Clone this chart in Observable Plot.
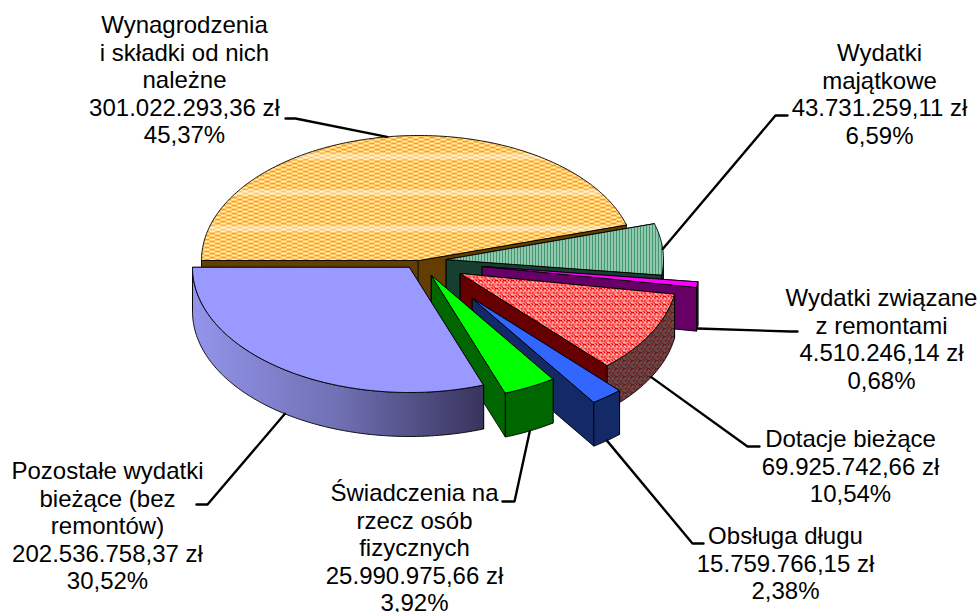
<!DOCTYPE html>
<html lang="pl">
<head>
<meta charset="utf-8">
<script src="https://cdn.jsdelivr.net/npm/d3@7"></script>
<script src="https://cdn.jsdelivr.net/npm/@observablehq/plot@0.6"></script>
<style>
html,body{margin:0;padding:0;background:#fff;overflow:hidden}
svg{display:block}
</style>
</head>
<body>
<div id="chart"></div>
<script>
// --- data ---
const names = [
  "Wynagrodzenia\ni składki od nich\nnależne",
  "Wydatki\nmajątkowe",
  "Wydatki związane\nz remontami",
  "Dotacje bieżące",
  "Obsługa długu",
  "Świadczenia na\nrzecz osób\nfizycznych",
  "Pozostałe wydatki\nbieżące (bez\nremontów)"
];
const amounts = [301022293.36, 43731259.11, 4510246.14, 69925742.66, 15759766.15, 25990975.66, 202536758.37];
const shares = ["45,37%", "6,59%", "0,68%", "10,54%", "2,38%", "3,92%", "30,52%"];

// --- pie layout (exploded apex of every slice, ellipse radii, wall depth) ---
const apexX = [418, 446, 482, 460, 472, 431, 409];
const apexY = [260, 259, 266, 273, 298, 275, 267];
const radiusX = 217, radiusY = 125, depth = 44, firstAngle = -90;

// --- label layout ---
const labelX = [184, 879, 881, 850, 785, 414, 107];
const labelBaseline = [30, 58, 303, 444, 541, 498, 476];
const elbowX = [295, 775, 790, 747, 692, 514, 207];
const elbowY = [118, 115, 331, 446, 543, 501, 504];
const stubX  = [285, 787, 797, 759, 703, 502, 196];

// --- styles ---
const topFill  = ["url(#patYellow)", "url(#patGreen)", "#ff00ff", "url(#patRed)", "#3366ff", "#00ff00", "#9999ff"];
const cutFill  = ["#633e00", "#173f30", "#660066", "#660000", "#142a66", "#006600", "#4a4a80"];
const wallFill = ["#633e00", "#173f30", "#660066", "url(#patRedDark)", "#142a66", "#006600", "url(#gradViolet)"];

const total = d3.sum(amounts);
const money = d3.formatLocale({decimal: ",", thousands: ".", grouping: [3], currency: ["", ""]}).format(",.2f");

const rad = a => a * Math.PI / 180;
const edge = (i, a) => [apexX[i] + radiusX * Math.sin(rad(a)), apexY[i] - radiusY * Math.cos(rad(a))];
const down = p => [p[0], p[1] + depth];
const arc = (i, a0, a1) => {
  const n = Math.max(2, Math.ceil(Math.abs(a1 - a0)));
  return d3.range(n + 1).map(k => edge(i, a0 + (a1 - a0) * k / n));
};

let cursor = firstAngle;
const slices = amounts.map((v, i) => {
  const a0 = cursor, a1 = cursor + 360 * v / total;
  cursor = a1;
  return {i, a0, a1, mid: (a0 + a1) / 2};
});

const face = (pts, fill, strokeWidth = 0.9) =>
  Plot.line(pts, {x: d => d[0], y: d => d[1], curve: "linear-closed", fill, stroke: "#000", strokeWidth, strokeLinejoin: "round"});

const pieMarks = slices.flatMap(({i, a0, a1}) => {
  const apex = [apexX[i], apexY[i]];
  const marks = [];
  for (const a of [a0, a1]) {
    const e = edge(i, a);
    marks.push(face([apex, e, down(e), down(apex)], cutFill[i]));
  }
  const w0 = Math.max(a0, 90), w1 = Math.min(a1, 270);
  if (w1 > w0) {
    const top = arc(i, w0, w1);
    marks.push(face([...top, ...top.slice().reverse().map(p => down(p))], wallFill[i]));
  }
  marks.push(face([apex, ...arc(i, a0, a1)], topFill[i]));
  return marks;
});

const leaderMarks = slices.map(({i, mid}) => {
  const e = edge(i, mid);
  const start = mid > 90 && mid < 270 ? down(e) : e;
  return Plot.line([start, [elbowX[i], elbowY[i]], [stubX[i], elbowY[i]]],
    {x: d => d[0], y: d => d[1], stroke: "#000", strokeWidth: 2.4, strokeLinejoin: "miter"});
});

const labels = amounts.map((v, i) => ({
  x: labelX[i],
  y: labelBaseline[i] - 17,
  text: `${names[i]}\n${money(v)} zł\n${shares[i]}`
}));

// fill patterns and the wall gradient
function defs() {
  const ns = d3.create("svg:defs");
  const pattern = (id, w, h) => ns.append("pattern").attr("id", id).attr("width", w).attr("height", h).attr("patternUnits", "userSpaceOnUse");
  const rect = (p, x, y, w, h, fill, op = 1) => p.append("rect").attr("x", x).attr("y", y).attr("width", w).attr("height", h).attr("fill", fill).attr("opacity", op);

  const py = pattern("patYellow", 11, 36);
  rect(py, 0, 0, 11, 36, "#fff6e6");
  d3.range(0, 36, 4).forEach(y => { rect(py, 0, y, 5.5, 2.2, "#ffa200"); rect(py, 5.5, y + 2, 5.5, 2.2, "#ffa200"); });
  rect(py, 0, 9, 11, 6, "#fff", 0.4);

  const pg = pattern("patGreen", 3, 3);
  rect(pg, 0, 0, 3, 3, "#e4f2ea");
  rect(pg, 0, 0, 2, 3, "#3f9a70");

  const cells = [[0,0],[3,0],[6,0],[1,1],[5,1],[2,2],[6,2],[0,3],[4,3],[1,4],[3,4],[6,4],[0,5],[4,5],[2,6],[5,6],[0,7],[3,7],[6,7]];
  const pr = pattern("patRed", 8, 8);
  rect(pr, 0, 0, 8, 8, "#fff");
  cells.forEach(([x, y]) => rect(pr, x, y, 2, 1, "#ff0000"));

  const pd = pattern("patRedDark", 8, 8);
  rect(pd, 0, 0, 8, 8, "#70696a");
  cells.forEach(([x, y]) => rect(pd, x, y, 2, 1, "#661818"));

  const g = ns.append("linearGradient").attr("id", "gradViolet").attr("x1", 0).attr("x2", 1).attr("y1", 0).attr("y2", 0);
  [[0, "#9494ec"], [0.5, "#7070b4"], [1, "#38345c"]].forEach(([o, c]) => g.append("stop").attr("offset", o).attr("stop-color", c));
  return ns.node();
}

const chart = Plot.plot({
  width: 979,
  height: 612,
  margin: 0,
  x: {domain: [0, 979], range: [0, 979], axis: null},
  y: {domain: [0, 612], range: [0, 612], axis: null},
  style: {background: "#fff"},
  marks: [
    defs,
    ...pieMarks,
    ...leaderMarks,
    Plot.text(labels, {
      x: "x", y: "y", text: "text",
      lineAnchor: "top", textAnchor: "middle", lineHeight: 1.15,
      fontSize: 24, fontFamily: "Liberation Sans", fill: "#000"
    })
  ]
});
document.getElementById("chart").append(chart);
</script>
</body>
</html>
